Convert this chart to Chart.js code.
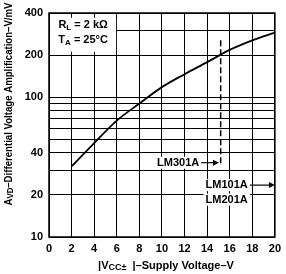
<!DOCTYPE html>
<html><head><meta charset="utf-8">
<script src="https://cdn.jsdelivr.net/npm/chart.js@4/dist/chart.umd.min.js"></script>
<style>html,body{margin:0;padding:0;background:#fff}#w{width:286px;height:274px}</style>
</head><body><div id="w"><canvas id="c" width="286" height="274"></canvas></div>
<script>
const supplyVoltage = [2, 4, 6, 8, 10, 12, 14, 16, 18, 20];
const gainVmV = [32, 47, 68, 90, 118, 146, 178, 218, 255, 290];
const lm301Limit = [{x: 15.2, y: 255}, {x: 15.2, y: 33}];
const xTicks = [0, 2, 4, 6, 8, 10, 12, 14, 16, 18, 20];
const yGrid = [10, 20, 30, 40, 50, 60, 70, 80, 90, 100, 200, 300, 400];
const yLabels = [10, 20, 40, 100, 200, 400];

const FONT = '"Liberation Sans", Arial, sans-serif';

function measure(ctx, parts) {
  let total = 0;
  parts.forEach(p => { ctx.font = 'bold ' + p[1] + 'px ' + FONT; total += ctx.measureText(p[0]).width; });
  return total;
}
function runs(ctx, parts, x, y, align) {
  const total = measure(ctx, parts);
  let cx = align === 'center' ? x - total / 2 : (align === 'right' ? x - total : x);
  const start = cx;
  ctx.textAlign = 'left';
  ctx.textBaseline = 'middle';
  parts.forEach(p => {
    ctx.font = 'bold ' + p[1] + 'px ' + FONT;
    ctx.fillText(p[0], cx, y + (p[2] || 0));
    cx += ctx.measureText(p[0]).width;
  });
  return {x0: start, x1: cx, w: total};
}

const annot = {
  id: 'annot',
  afterDatasetsDraw(chart) {
    const ctx = chart.ctx, xs = chart.scales.x, ys = chart.scales.y;
    ctx.save();
    ctx.fillStyle = '#000'; ctx.strokeStyle = '#000';
    // RL / TA box
    const bx = xs.getPixelForValue(0.1), by = ys.getPixelForValue(370);
    ctx.fillStyle = '#fff';
    ctx.fillRect(bx, by, 66, 34);
    ctx.fillStyle = '#000';
    runs(ctx, [['R', 11, 0], ['L', 8, 3], [' = 2 k\u03A9', 11, 0]], bx + 33, by + 7, 'center');
    runs(ctx, [['T', 11, 0], ['A', 8, 3], [' = 25\u00B0C', 11, 0]], bx + 33, by + 22, 'center');

    // LM301A arrow
    const ay = ys.getPixelForValue(34);
    const xl = xs.getPixelForValue(13.3);
    ctx.font = 'bold 11px ' + FONT;
    const w1 = ctx.measureText('LM301A').width;
    ctx.fillStyle = '#fff';
    ctx.fillRect(xl - w1 - 2, ay - 6, w1 + 4, 12);
    ctx.fillStyle = '#000';
    const t1 = runs(ctx, [['LM301A', 11, 0]], xl, ay, 'right');
    const tip1 = xs.getPixelForValue(15.05);
    ctx.lineWidth = 1.2;
    ctx.beginPath(); ctx.moveTo(t1.x1 + 2, ay); ctx.lineTo(tip1 - 5, ay); ctx.stroke();
    ctx.beginPath(); ctx.moveTo(tip1, ay); ctx.lineTo(tip1 - 6, ay - 3); ctx.lineTo(tip1 - 6, ay + 3); ctx.closePath(); ctx.fill();

    // LM101A / LM201A
    const by1 = ys.getPixelForValue(23.5), by2 = ys.getPixelForValue(18.5);
    const xr = xs.getPixelForValue(17.6);
    ctx.fillStyle = '#fff';
    ctx.font = 'bold 11px ' + FONT;
    const w2 = ctx.measureText('LM101A').width;
    ctx.fillRect(xr - w2 - 2, by1 - 6, w2 + 4, 12);
    ctx.fillRect(xr - w2 - 2, by2 - 6, w2 + 4, 12);
    ctx.fillStyle = '#000';
    runs(ctx, [['LM101A', 11, 0]], xr, by1, 'right');
    runs(ctx, [['LM201A', 11, 0]], xr, by2, 'right');
    const tip2 = xs.getPixelForValue(20);
    ctx.beginPath(); ctx.moveTo(xr + 2, by1); ctx.lineTo(tip2 - 5, by1); ctx.stroke();
    ctx.beginPath(); ctx.moveTo(tip2, by1); ctx.lineTo(tip2 - 6, by1 - 3); ctx.lineTo(tip2 - 6, by1 + 3); ctx.closePath(); ctx.fill();

    // frame
    const a = chart.chartArea;
    ctx.lineWidth = 1.5;
    ctx.strokeRect(a.left, a.top, a.right - a.left, a.bottom - a.top);

    // axis titles
    ctx.fillStyle = '#000';
    runs(ctx, [['|V', 11, 0], ['CC\u00B1', 9, 2], ['  |\u2013Supply Voltage\u2013V', 11, 0]], 166, 266, 'center');
    const yParts = [['A', 10.5, 0], ['VD', 8.5, 2], ['\u2013Differential Voltage Amplification\u2013V/mV', 10.5, 0]];
    const yw = measure(ctx, yParts);
    ctx.translate(9, 104);
    ctx.rotate(-Math.PI / 2);
    ctx.scale(203 / yw, 1);
    runs(ctx, yParts, 0, 0, 'center');
    ctx.restore();
  }
};

new Chart(document.getElementById('c'), {
  type: 'line',
  data: {
    datasets: [
      {data: supplyVoltage.map((v, i) => ({x: v, y: gainVmV[i]})), borderColor: '#000', borderWidth: 1.8, pointRadius: 0, tension: 0.4, cubicInterpolationMode: 'monotone'},
      {data: lm301Limit, borderColor: '#000', borderWidth: 1.5, borderDash: [6, 3], pointRadius: 0}
    ]
  },
  options: {
    responsive: false, animation: false, devicePixelRatio: 1,
    layout: {padding: {top: 13, right: 6, left: 0, bottom: 0}},
    plugins: {legend: {display: false}, tooltip: {enabled: false}},
    scales: {
      x: {
        type: 'linear', min: 0, max: 20,
        afterBuildTicks: s => { s.ticks = xTicks.map(v => ({value: v})); },
        afterFit: s => { s.height = 37; },
        grid: {color: '#000', lineWidth: 1, drawTicks: false},
        border: {display: false},
        ticks: {color: '#000', font: {family: FONT, weight: 'bold', size: 11}, padding: 5, maxRotation: 0, autoSkip: false}
      },
      y: {
        type: 'logarithmic', min: 10, max: 400,
        afterBuildTicks: s => { s.ticks = yGrid.map(v => ({value: v})); },
        afterFit: s => { s.width = 49; },
        grid: {color: '#000', lineWidth: 1, drawTicks: false},
        border: {display: false},
        ticks: {color: '#000', font: {family: FONT, weight: 'bold', size: 11}, padding: 6, autoSkip: false,
          callback: v => yLabels.includes(v) ? String(v) : ''}
      }
    }
  },
  plugins: [annot]
});
</script></body></html>
